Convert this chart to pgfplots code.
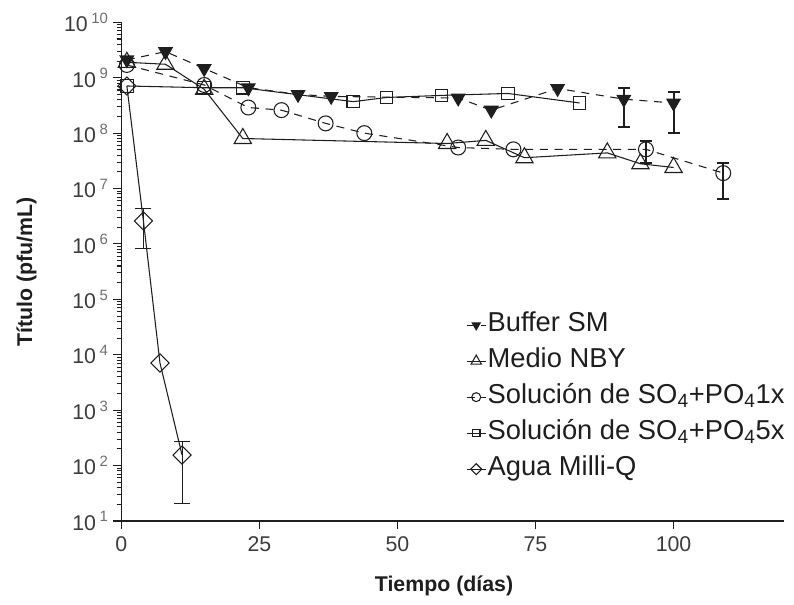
\documentclass[border=0pt]{standalone}
\usepackage{fontspec}
\setmainfont{Liberation Sans}
\usepackage{pgfplots}
\pgfplotsset{compat=1.18}
\definecolor{ink}{HTML}{1E1E1E}
\definecolor{tickc}{HTML}{3C3C3C}
\definecolor{supc}{HTML}{6E6E6E}
\newcommand{\dec}[1]{10\,\textcolor{supc}{\textsuperscript{#1}}}

\begin{document}
\begin{tikzpicture}
  \begin{axis}[
      at={(0,0)}, anchor=south west,
      scale only axis, width=497pt, height=374pt,
      xmin=0, xmax=120, ymode=log, ymin=10, ymax=1e10,
      axis x line=bottom, axis y line=left,
      axis line style={-, ink, line width=0.9pt},
      xtick={0,25,50,75,100},
      ytick={1e1,1e2,1e3,1e4,1e5,1e6,1e7,1e8,1e9,1e10},
      yticklabels={\dec{1},\dec{2},\dec{3},\dec{4},\dec{5},\dec{6},\dec{7},\dec{8},\dec{9},\dec{10}},
      /pgf/number format/assume math mode=true,
      tick align=outside, major tick length=6pt, minor tick length=3.5pt,
      tick style={ink, line width=0.8pt},
      ticklabel style={font=\fontsize{16}{19}\selectfont, text=tickc},
      xticklabel style={yshift=-2pt},
      xlabel={Tiempo (días)},
      ylabel={Título (pfu/mL)},
      every axis x label/.style={at={(axis description cs:0.487,-0.13)}, anchor=center,
        font=\fontsize{16}{19}\selectfont\bfseries, text=ink},
      every axis y label/.style={at={(axis description cs:-0.143,0.5)}, rotate=90, anchor=center,
        font=\fontsize{16}{19}\selectfont\bfseries, text=ink},
      clip=false,
      reverse legend,
      legend cell align=left,
      legend style={draw=none, fill=none, at={(0.514,0.428)}, anchor=north west,
        font=\fontsize{20.5}{24}\selectfont, text=ink, row sep=5pt,
        nodes={inner sep=1pt, text height=15pt, text depth=5pt},
        /tikz/every even column/.append style={column sep=3pt}},
      legend image code/.code={%
        \draw[mark repeat=2, mark phase=2] plot coordinates {(0cm,0cm) (0.25cm,0cm) (0.5cm,0cm)};},
      legend image post style={every mark/.append style={scale=0.6}},
    ]
    % Agua Milli-Q
    \addplot[ink, line width=0.8pt, mark=square, mark size=4.8pt,
             mark options={rotate=45, solid, fill=none}]
      coordinates {(1,7.1e8) (4,2.6e6) (7,7.1e3) (11,155)};
    \addlegendentry{Agua Milli-Q}
    % Solucion 5x
    \addplot[ink, line width=0.8pt, mark=square, mark size=4.7pt,
             mark options={solid, fill=none}]
      coordinates {(1,7.1e8) (15,6.6e8) (22,6.6e8) (42,3.7e8) (48,4.4e8)
                   (58,4.8e8) (70,5.2e8) (83,3.5e8)};
    \addlegendentry{Solución de SO\textsubscript{4}+PO\textsubscript{4}5x}
    % Solucion 1x
    \addplot[ink, line width=0.8pt, dash pattern=on 6pt off 5pt, mark=o, mark size=5.6pt,
             mark options={solid, fill=none}]
      coordinates {(1,1.7e9) (15,7.4e8) (23,2.9e8) (29,2.6e8) (37,1.5e8) (44,1.0e8)
                   (61,5.5e7) (71,5.1e7) (95,5.1e7) (109,1.9e7)};
    \addlegendentry{Solución de SO\textsubscript{4}+PO\textsubscript{4}1x}
    % Medio NBY
    \addplot[ink, line width=0.8pt, mark=triangle, mark size=7.5pt,
             mark options={solid, fill=none}]
      coordinates {(1,1.9e9) (8,1.75e9) (15,6.2e8) (22,8e7) (59,6.5e7) (66,7.4e7)
                   (73,3.6e7) (88,4.4e7) (94,2.8e7) (100,2.4e7)};
    \addlegendentry{Medio NBY}
    % Buffer SM
    \addplot[ink, line width=0.8pt, dash pattern=on 6pt off 5pt, mark=triangle*, mark size=5.8pt,
             mark options={solid, rotate=180, fill=ink}]
      coordinates {(1,2.1e9) (8,2.96e9) (15,1.47e9) (23,6.6e8) (32,5.0e8) (38,4.6e8)
                   (61,4.3e8) (67,2.6e8) (79,6.4e8) (91,4.1e8) (100,3.5e8)};
    \addlegendentry{Buffer SM}
    % error bars: whiskers (low, high) and caps
    \addplot[ink, line width=1.5pt, forget plot] coordinates {(91,1.3e8) (91,6.4e8)};
    \addplot[ink, line width=1.5pt, forget plot] coordinates {(100,1.0e8) (100,5.6e8)};
    \addplot[ink, line width=1.5pt, forget plot] coordinates {(95,2.9e7) (95,7.1e7)};
    \addplot[ink, line width=1.5pt, forget plot] coordinates {(109,6.6e6) (109,2.9e7)};
    \addplot[only marks, mark=-, mark size=4.5pt, forget plot,
             mark options={ink, line width=1.5pt}]
      coordinates {(91,1.3e8) (91,6.4e8) (100,1.0e8) (100,5.6e8)
                   (95,2.9e7) (95,7.1e7) (109,6.6e6) (109,2.9e7)};
    \addplot[ink, line width=0.8pt, forget plot] coordinates {(4,8.3e5) (4,4.4e6)};
    \addplot[ink, line width=0.8pt, forget plot] coordinates {(11,21) (11,275)};
    \addplot[only marks, mark=-, mark size=6pt, forget plot,
             mark options={ink, line width=0.8pt}]
      coordinates {(4,8.3e5) (4,4.4e6) (11,21) (11,275)};
  \end{axis}
  \pgfresetboundingbox
  \path[use as bounding box] (-91pt,-63pt) rectangle (504.5pt,390.75pt);
\end{tikzpicture}
\end{document}
